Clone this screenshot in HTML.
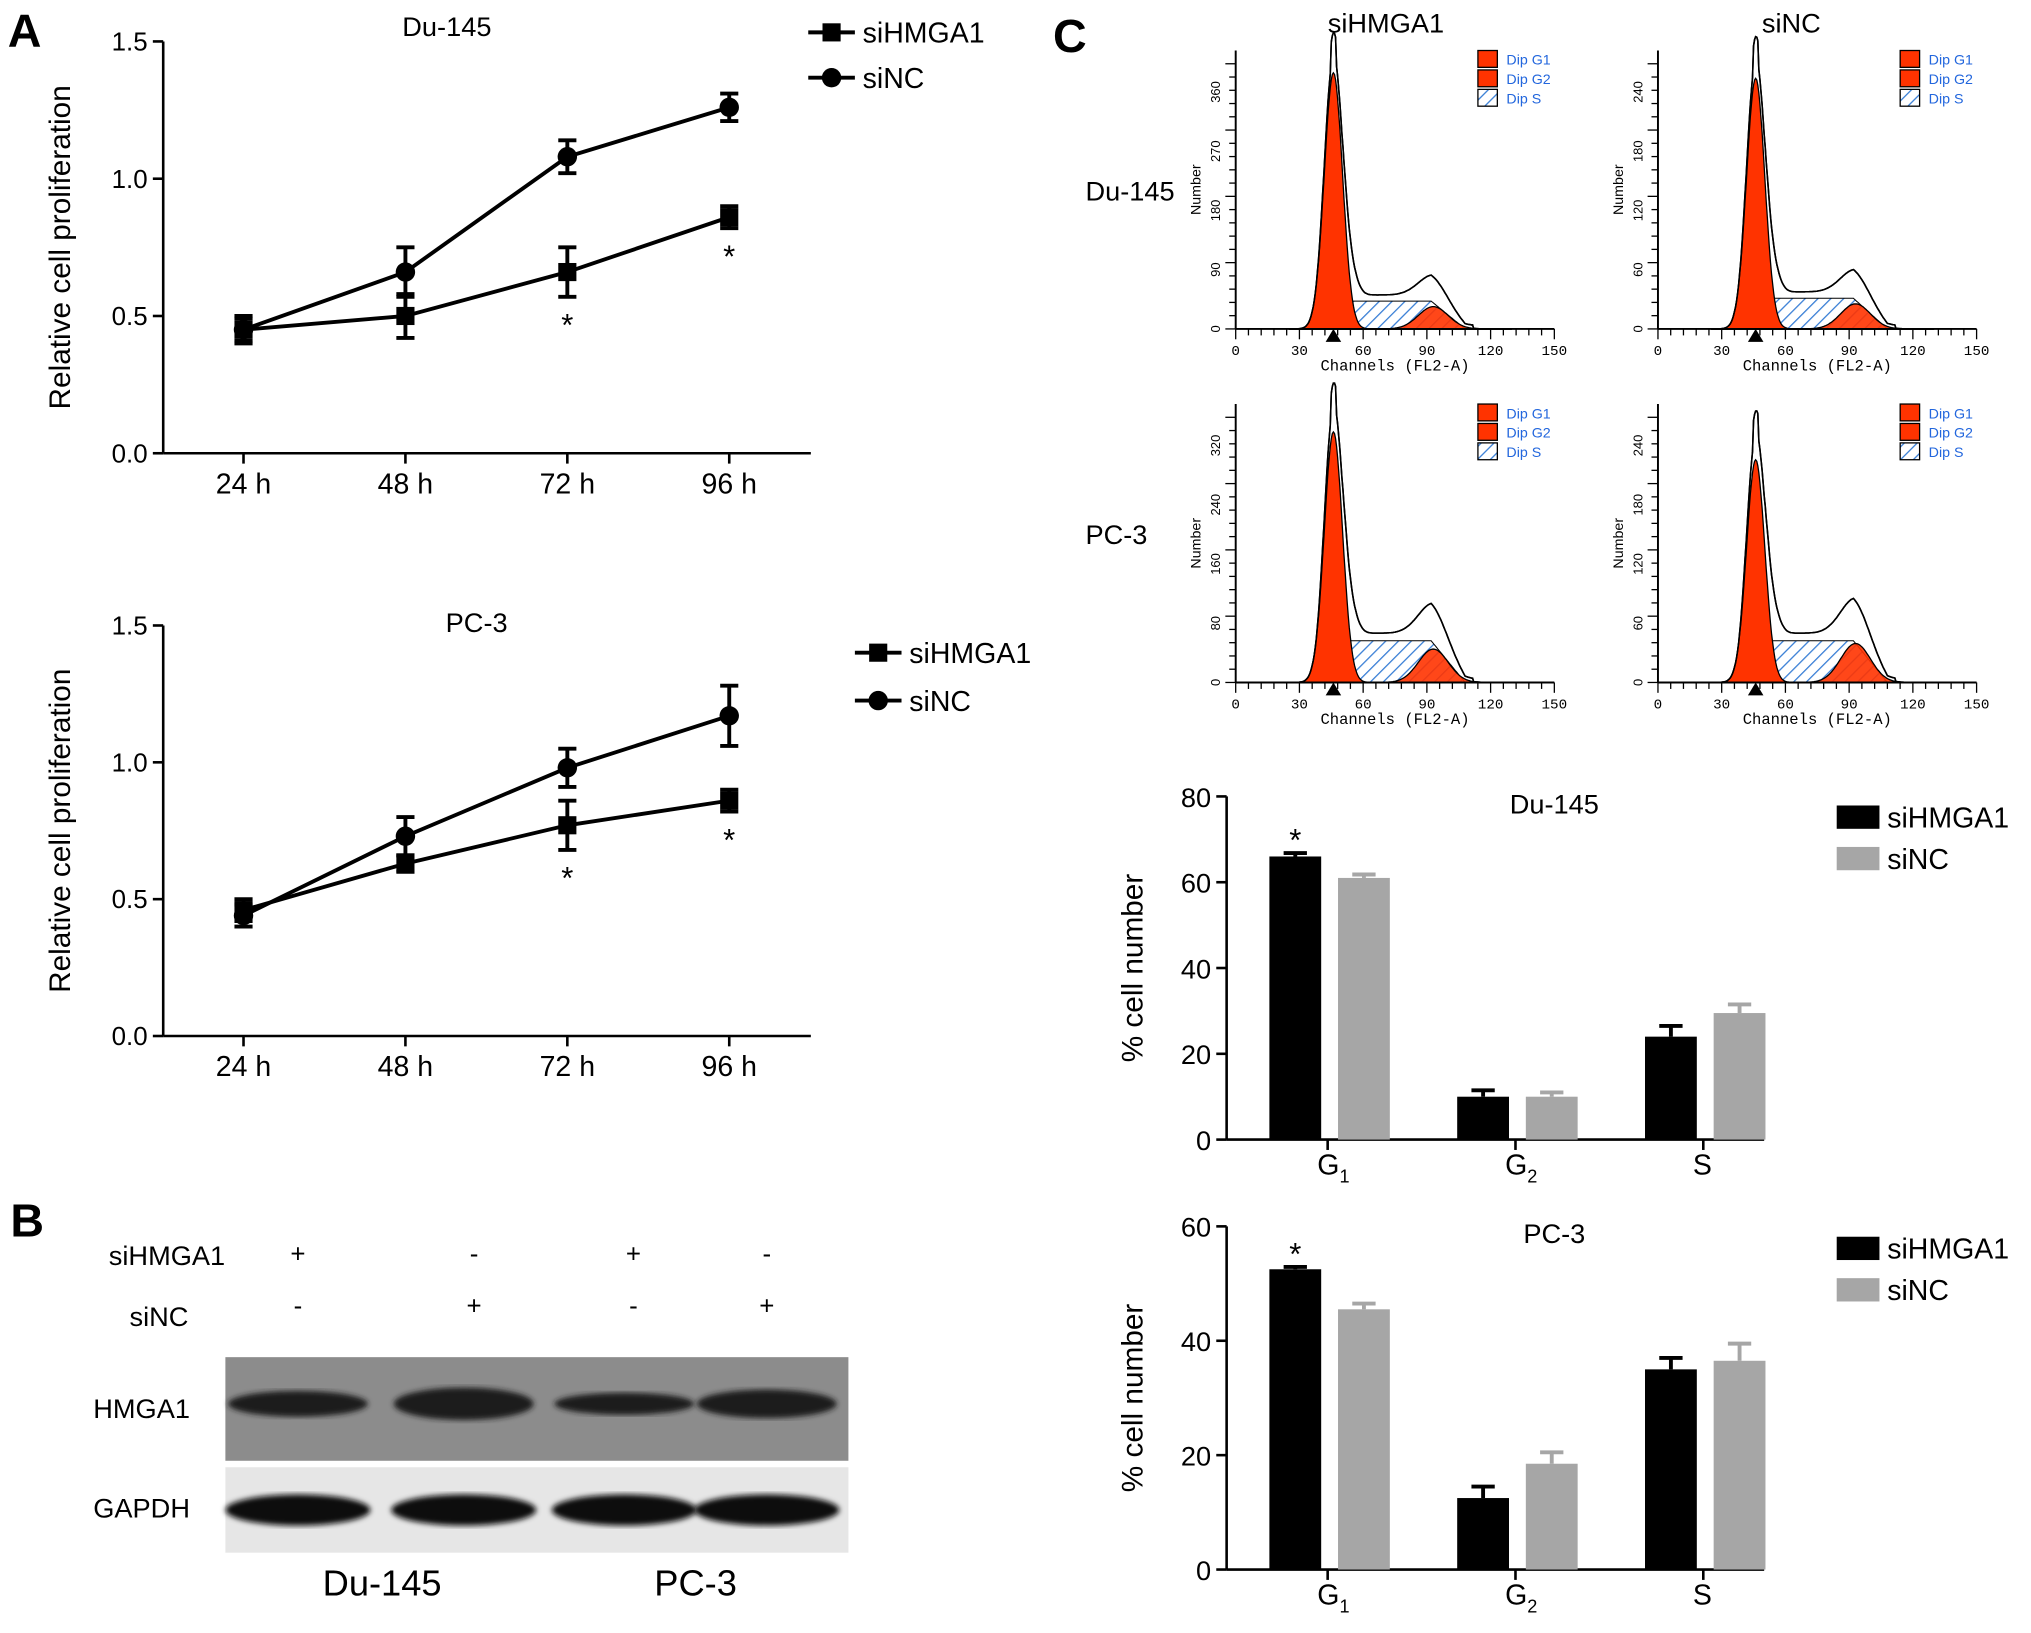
<!DOCTYPE html>
<html><head><meta charset="utf-8"><style>
html,body{margin:0;padding:0;background:#fff}
svg{display:block;font-family:"Liberation Sans",sans-serif}
</style></head><body>
<svg id="fig" width="2031" height="1633" viewBox="0 0 1568 1261" preserveAspectRatio="none" xmlns="http://www.w3.org/2000/svg">
<defs>
<pattern id="hatch" patternUnits="userSpaceOnUse" width="7" height="7" patternTransform="rotate(45)">
<rect width="7" height="7" fill="#fff"/><line x1="0" y1="0" x2="0" y2="7" stroke="#3a7fd6" stroke-width="2"/></pattern>
<filter id="blur"><feGaussianBlur stdDeviation="2"/></filter>
</defs>
<g id="root"></g>
</svg>
<script>
// ---------- data ----------
const timeLabels = ["24 h","48 h","72 h","96 h"];
const duSi = [0.45,0.50,0.66,0.86];
const duSiErr = [0.05,0.08,0.09,0.04];
const duNC = [0.45,0.66,1.08,1.26];
const duNCErr = [0.04,0.09,0.06,0.05];
const pcSi = [0.46,0.63,0.77,0.86];
const pcSiErr = [0.04,0.03,0.09,0.04];
const pcNC = [0.44,0.73,0.98,1.17];
const pcNCErr = [0.04,0.07,0.07,0.11];
const lineTicks = [0.0,0.5,1.0,1.5];
const phases = ["G1","G2","S"];
const duBarSi = [66,10,24];
const duBarSiErr = [0.8,1.5,2.5];
const duBarNC = [61,10,29.5];
const duBarNCErr = [0.8,1,2];
const pcBarSi = [52.5,12.5,35];
const pcBarSiErr = [0.4,2,2];
const pcBarNC = [45.5,18.5,36.5];
const pcBarNCErr = [1,2,3];
const duBarTicks = [0,20,40,60,80];
const pcBarTicks = [0,20,40,60];

const NS="http://www.w3.org/2000/svg";
const root=document.getElementById('root');
function el(tag,attrs,parent,text){const e=document.createElementNS(NS,tag);for(const k in attrs)e.setAttribute(k,attrs[k]);if(text!==undefined)e.textContent=text;(parent||root).appendChild(e);return e;}

let t;
t=el('text',{x:6,y:36,'font-size':36,'font-weight':'bold'},root,'A');


t=el('text',{x:8,y:955,'font-size':36,'font-weight':'bold'},root,'B');


t=el('text',{x:813,y:40,'font-size':36,'font-weight':'bold'},root,'C');



function lineChart(name,yTop,yBot,title,titleX,titleY,si,siE,nc,ncE,legX,legY1,legY2,stars){
  const g=el('g',{});
  
  
  const x0=126,x1=626;
  const ys=v=>yBot-(v/1.5)*(yBot-yTop);
  const xs=i=>188+i*125;
  el('line',{x1:x0,y1:yTop,x2:x0,y2:yBot,stroke:'#000','stroke-width':2},g);
  el('line',{x1:x0,y1:yBot,x2:x1,y2:yBot,stroke:'#000','stroke-width':2},g);
  lineTicks.forEach(v=>{el('line',{x1:x0-8,y1:ys(v),x2:x0,y2:ys(v),stroke:'#000','stroke-width':2},g);
    el('text',{x:x0-12,y:ys(v)+7,'font-size':20,'text-anchor':'end'},g,v.toFixed(1));});
  timeLabels.forEach((l,i)=>{el('line',{x1:xs(i),y1:yBot,x2:xs(i),y2:yBot+8,stroke:'#000','stroke-width':2},g);
    el('text',{x:xs(i),y:yBot+31,'font-size':22,'text-anchor':'middle'},g,l);});
  const yl=el('text',{x:0,y:0,'font-size':23,'text-anchor':'middle',transform:`translate(54,${(yTop+yBot)/2}) rotate(-90)`},g,'Relative cell proliferation');
  
  
  el('text',{x:titleX,y:titleY,'font-size':21,'text-anchor':'middle'},g,title);
  function series(vals,errs,marker,sname){
    const sg=el('g',{},g);
    
    
    el('polyline',{points:vals.map((v,i)=>xs(i)+','+ys(v)).join(' '),fill:'none',stroke:'#000','stroke-width':3},sg);
    vals.forEach((v,i)=>{const x=xs(i);
      el('line',{x1:x,y1:ys(v-errs[i]),x2:x,y2:ys(v+errs[i]),stroke:'#000','stroke-width':3},sg);
      el('line',{x1:x-7,y1:ys(v-errs[i]),x2:x+7,y2:ys(v-errs[i]),stroke:'#000','stroke-width':3},sg);
      el('line',{x1:x-7,y1:ys(v+errs[i]),x2:x+7,y2:ys(v+errs[i]),stroke:'#000','stroke-width':3},sg);
      if(marker==='sq')el('rect',{x:x-7,y:ys(v)-7,width:14,height:14,fill:'#000'},sg);
      else el('circle',{cx:x,cy:ys(v),r:7.5,fill:'#000'},sg);});
  }
  series(si,siE,'sq','series-sihmga1');
  series(nc,ncE,'ci','series-sinc');
  stars.forEach(i=>{el('text',{x:xs(i),y:ys(si[i]-siE[i])+30,'font-size':24,'text-anchor':'middle'},g,'*');});
  const l1=el('g',{},g);
  
  
  el('line',{x1:legX,y1:legY1,x2:legX+36,y2:legY1,stroke:'#000','stroke-width':3},l1);
  el('rect',{x:legX+11,y:legY1-7,width:14,height:14},l1);
  el('text',{x:legX+42,y:legY1+8,'font-size':22},l1,'siHMGA1');
  const l2=el('g',{},g);
  
  
  el('line',{x1:legX,y1:legY2,x2:legX+36,y2:legY2,stroke:'#000','stroke-width':3},l2);
  el('circle',{cx:legX+18,cy:legY2,r:7.5},l2);
  el('text',{x:legX+42,y:legY2+8,'font-size':22},l2,'siNC');
}
lineChart('line-chart-du145',32,350,'Du-145',345,28,duSi,duSiErr,duNC,duNCErr,624,25,60,[2,3]);
lineChart('line-chart-pc3',483,800,'PC-3',368,488,pcSi,pcSiErr,pcNC,pcNCErr,660,504,541,[2,3]);

// ---------- panel B western blot ----------
(function(){
  const g=el('g',{});
  
  
  el('text',{x:84,y:977,'font-size':21},g,'siHMGA1');
  el('text',{x:100,y:1024,'font-size':21},g,'siNC');
  const cols=[230,366,489,592];
  const r1=['+','-','+','-'],r2=['-','+','-','+'];
  cols.forEach((x,i)=>{el('text',{x:x,y:975,'font-size':20,'text-anchor':'middle'},g,r1[i]);
    el('text',{x:x,y:1015,'font-size':20,'text-anchor':'middle'},g,r2[i]);});
  el('rect',{x:174,y:1048,width:481,height:80,fill:'#8c8c8c'},g);
  el('rect',{x:174,y:1133,width:481,height:66,fill:'#e6e6e6'},g);
  const hw=[0.8,1.3,0.5,1.0];
  const bx=[230,358,482,592];
  bx.forEach((x,i)=>{el('ellipse',{cx:x,cy:1084,rx:54,ry:6+5*hw[i],fill:'#1a1a1a',filter:'url(#blur)'},g);
    el('ellipse',{cx:x,cy:1166,rx:56,ry:12,fill:'#111',filter:'url(#blur)'},g);});
  el('text',{x:72,y:1095,'font-size':21},g,'HMGA1');
  el('text',{x:72,y:1172,'font-size':21},g,'GAPDH');
  el('text',{x:295,y:1232,'font-size':28,'text-anchor':'middle'},g,'Du-145');
  el('text',{x:537,y:1232,'font-size':28,'text-anchor':'middle'},g,'PC-3');
})();

// ---------- panel C flow histograms ----------
function gauss(x,m,s){return Math.exp(-0.5*((x-m)/s)**2);}
function histo(name,x0,yb,g1h,g2h,sh,yticks){
  const g=el('g',{});
  
  
  const W=246,H=215;
  const xs=c=>x0+c*W/150;
  const ys=v=>yb-v*H;
  let g1=[],g2=[],s=[],tot=[];
  for(let c=25;c<=130;c+=0.5){
    const a=g1h*gauss(c,46,4.3), b=g2h*gauss(c,93,7);
    const sv=sh*Math.max(0,Math.min(1,(c-38)/14))*Math.max(0,Math.min(1,(108-c)/16));
    g1.push([c,a]);g2.push([c,b]);s.push([c,sv]);
    tot.push([c,a+b*0.9+sv*1.1+0.04*gauss(c,55,3)+(c>50&&c<112?0.012:0)+(Math.abs(c-46)<1.5?0.08:0)]);
  }
  const path=arr=>'M'+xs(arr[0][0])+','+yb+' '+arr.map(p=>'L'+xs(p[0]).toFixed(1)+','+ys(p[1]).toFixed(1)).join(' ')+' L'+xs(arr[arr.length-1][0])+','+yb+'Z';
  el('path',{d:path(tot),fill:'#fff',stroke:'#000','stroke-width':1.2},g);
  el('path',{d:path(s),fill:'url(#hatch)',stroke:'#000','stroke-width':0.8},g);
  el('path',{d:path(g1),fill:'#ff3300',stroke:'#000','stroke-width':1},g);
  el('path',{d:path(g2),fill:'#ff3300',stroke:'#000','stroke-width':1,'fill-opacity':0.9},g);
  el('path',{d:path(tot),fill:'none',stroke:'#000','stroke-width':1.2},g);
  el('line',{x1:x0,y1:yb,x2:x0+W,y2:yb,stroke:'#000','stroke-width':1.5},g);
  el('line',{x1:x0,y1:yb,x2:x0,y2:yb-H,stroke:'#000','stroke-width':1.5},g);
  for(let c=0;c<=150;c+=6){el('line',{x1:xs(c),y1:yb,x2:xs(c),y2:yb+(c%30===0?8:5),stroke:'#000','stroke-width':1},g);}
  for(let c=0;c<=150;c+=30)el('text',{x:xs(c),y:yb+20,'font-size':11,'text-anchor':'middle','font-family':'Liberation Mono, monospace'},g,String(c));
  for(let i=0;i<=20;i++)el('line',{x1:x0-(i%5===0?8:5),y1:yb-i*H/21,x2:x0,y2:yb-i*H/21,stroke:'#000','stroke-width':1},g);
  yticks.forEach((v,i)=>{const y=yb-i*H/4.7;el('text',{x:0,y:0,'font-size':10,'text-anchor':'middle',transform:`translate(${x0-12},${y}) rotate(-90)`},g,String(v));});
  el('text',{x:0,y:0,'font-size':11,'text-anchor':'middle',transform:`translate(${x0-27},${yb-H/2}) rotate(-90)`},g,'Number');
  el('text',{x:x0+W/2,y:yb+32,'font-size':12,'text-anchor':'middle','font-family':'Liberation Mono, monospace'},g,'Channels (FL2-A)');
  el('polygon',{points:`${xs(46)-6},${yb+10} ${xs(46)+6},${yb+10} ${xs(46)},${yb}`,fill:'#000'},g);
  const lx=x0+187,ly=yb-215;
  [['Dip G1','#ff3300'],['Dip G2','#ff3300'],['Dip S','url(#hatch)']].forEach((d,i)=>{
    el('rect',{x:lx,y:ly+i*15,width:15,height:13,fill:d[1],stroke:'#000','stroke-width':1},g);
    el('text',{x:lx+22,y:ly+i*15+11,'font-size':11,fill:'#2266dd'},g,d[0]);});
}
histo('flow-du145-sihmga1',954,254,0.92,0.08,0.1,[0,90,180,270,360]);
histo('flow-du145-sinc',1280,254,0.9,0.09,0.11,[0,60,120,180,240]);
histo('flow-pc3-sihmga1',954,527,0.9,0.12,0.15,[0,80,160,240,320]);
histo('flow-pc3-sinc',1280,527,0.8,0.14,0.15,[0,60,120,180,240]);
el('text',{x:1070,y:25,'font-size':21,'text-anchor':'middle'},root,'siHMGA1');
el('text',{x:1383,y:25,'font-size':21,'text-anchor':'middle'},root,'siNC');
el('text',{x:838,y:155,'font-size':21},root,'Du-145');
el('text',{x:838,y:420,'font-size':21},root,'PC-3');

// ---------- bar charts ----------
function barChart(name,yTop,yBot,maxV,ticks,title,si,siE,nc,ncE,legY){
  const g=el('g',{});
  
  
  const x0=947,x1=1362;
  const ys=v=>yBot-(v/maxV)*(yBot-yTop);
  const cs=i=>1025+i*145;
  el('line',{x1:x0,y1:yTop,x2:x0,y2:yBot,stroke:'#000','stroke-width':2},g);
  el('line',{x1:x0,y1:yBot,x2:x1,y2:yBot,stroke:'#000','stroke-width':2},g);
  ticks.forEach(v=>{el('line',{x1:x0-8,y1:ys(v),x2:x0,y2:ys(v),stroke:'#000','stroke-width':2},g);
    el('text',{x:x0-12,y:ys(v)+8,'font-size':21,'text-anchor':'end'},g,String(v));});
  const yl=el('text',{x:0,y:0,'font-size':23,'text-anchor':'middle',transform:`translate(882,${(yTop+yBot)/2}) rotate(-90)`},g,'% cell number');
  
  
  el('text',{x:1200,y:yTop+13,'font-size':21,'text-anchor':'middle'},g,title);
  phases.forEach((p,i)=>{const c=cs(i);
    el('line',{x1:c,y1:yBot,x2:c,y2:yBot+8,stroke:'#000','stroke-width':2},g);
    const tx=el('text',{x:c-8,y:yBot+27,'font-size':22},g,p[0]);
    if(p.length>1)el('tspan',{'font-size':14,dy:6},tx,p[1]);
    [[si,siE,'#000',c-45,'bar-sihmga1-'+p],[nc,ncE,'#a6a6a6',c+8,'bar-sinc-'+p]].forEach(d=>{
      const v=d[0][i],e=d[1][i];
      const r=el('rect',{x:d[3],y:ys(v),width:40,height:yBot-ys(v),fill:d[2]},g);
      
      
      const mx=d[3]+20;
      el('line',{x1:mx,y1:ys(v),x2:mx,y2:ys(v+e),stroke:d[2],'stroke-width':3},g);
      el('line',{x1:mx-9,y1:ys(v+e),x2:mx+9,y2:ys(v+e),stroke:d[2],'stroke-width':3},g);
    });
  });
  el('text',{x:cs(0)-25,y:ys(si[0]+siE[0])-2,'font-size':24,'text-anchor':'middle'},g,'*');
  [['#000','siHMGA1',legY],['#a6a6a6','siNC',legY+32]].forEach(d=>{
    const lg=el('g',{},g);
    
    
    el('rect',{x:1418,y:d[2]-9,width:33,height:18,fill:d[0]},lg);
    el('text',{x:1457,y:d[2]+8,'font-size':22},lg,d[1]);});
}
barChart('bar-chart-du145',615,880,80,duBarTicks,'Du-145',duBarSi,duBarSiErr,duBarNC,duBarNCErr,631);
barChart('bar-chart-pc3',947,1212,60,pcBarTicks,'PC-3',pcBarSi,pcBarSiErr,pcBarNC,pcBarNCErr,964);
</script>
</body></html>
